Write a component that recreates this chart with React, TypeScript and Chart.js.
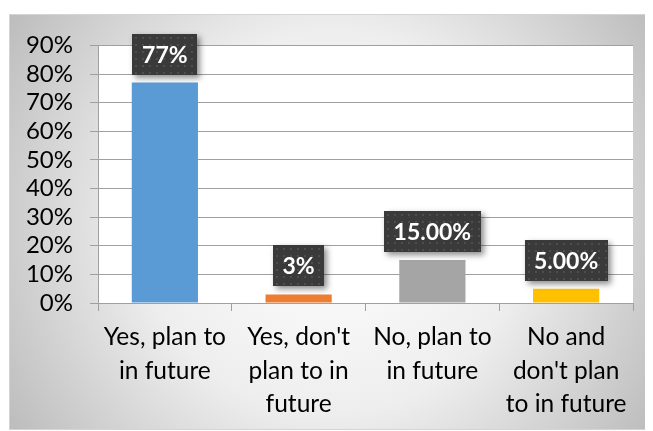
import React, { useEffect, useRef } from "react";
import { Chart, registerables } from "chart.js";

Chart.register(...registerables);

const categories: string[][] = [
  ["Yes, plan to", "in future"],
  ["Yes, don't", "plan to in", "future"],
  ["No, plan to", "in future"],
  ["No and", "don't plan", "to in future"],
];
const values = [77, 3, 15, 5];
const valueLabels = ["77%", "3%", "15.00%", "5.00%"];
const barColors = ["#5B9BD5", "#ED7D31", "#A5A5A5", "#FFC000"];
const yMin = 0;
const yMax = 90;
const yStep = 10;

const FONT = "Lato, 'Liberation Sans', sans-serif";

const backgroundPlugin = {
  id: "bgPlugin",
  beforeDraw(chart: any) {
    const { ctx, width, height, chartArea } = chart;
    ctx.save();
    const r = Math.hypot(width / 2, height / 2);
    const g = ctx.createRadialGradient(width / 2, height / 2, 0, width / 2, height / 2, r);
    g.addColorStop(0, "#ffffff");
    g.addColorStop(0.5, "#eeeeee");
    g.addColorStop(1, "#bcbcbc");
    ctx.fillStyle = g;
    ctx.fillRect(0, 0, width, height);
    ctx.fillStyle = "#ffffff";
    ctx.fillRect(chartArea.left, chartArea.top, chartArea.right - chartArea.left, chartArea.bottom - chartArea.top);
    ctx.strokeStyle = "#d4d4d4";
    ctx.lineWidth = 1;
    ctx.strokeRect(0.5, 0.5, width - 1, height - 1);
    ctx.restore();
  },
};

const labelPlugin = {
  id: "boxLabels",
  afterDatasetsDraw(chart: any) {
    const { ctx } = chart;
    const meta = chart.getDatasetMeta(0);
    meta.data.forEach((bar: any, i: number) => {
      const text = valueLabels[i];
      ctx.save();
      ctx.font = `bold 23px ${FONT}`;
      const tw = ctx.measureText(text).width;
      const w = Math.round(tw + 19);
      const h = 41;
      const x = Math.round(bar.x - w / 2);
      const y = Math.round(bar.y - 8 - h);
      ctx.shadowColor = "rgba(0,0,0,0.45)";
      ctx.shadowBlur = 6;
      ctx.shadowOffsetX = 3;
      ctx.shadowOffsetY = 3;
      ctx.fillStyle = "#3a3a3a";
      ctx.fillRect(x, y, w, h);
      ctx.restore();
      ctx.save();
      ctx.beginPath();
      ctx.rect(x, y, w, h);
      ctx.clip();
      ctx.fillStyle = "#4e4e4e";
      for (let yy = y + 3; yy < y + h; yy += 7) {
        for (let xx = x + 3; xx < x + w; xx += 7) {
          ctx.fillRect(xx, yy, 2, 2);
        }
      }
      ctx.restore();
      ctx.save();
      ctx.font = `bold 23px ${FONT}`;
      ctx.fillStyle = "#ffffff";
      ctx.textAlign = "center";
      ctx.textBaseline = "middle";
      ctx.fillText(text, bar.x, y + h / 2 + 1);
      ctx.restore();
    });
  },
};

export default function App() {
  const ref = useRef<HTMLCanvasElement>(null);
  useEffect(() => {
    if (!ref.current) return;
    const chart = new Chart(ref.current, {
      type: "bar",
      data: {
        labels: categories as any,
        datasets: [
          {
            data: values,
            backgroundColor: barColors,
            borderWidth: 0,
            categoryPercentage: 1,
            barPercentage: 0.495,
          },
        ],
      },
      options: {
        animation: false,
        responsive: false,
        layout: { padding: { top: 30, right: 19, left: 0, bottom: 0 } },
        plugins: { legend: { display: false }, tooltip: { enabled: false } },
        scales: {
          x: {
            grid: {
              display: true,
              drawOnChartArea: false,
              drawTicks: true,
              tickLength: 8,
              color: "#a0a0a0",
              offset: true,
            },
            border: { display: true, color: "#a0a0a0" },
            ticks: {
              color: "#000000",
              font: { family: FONT, size: 24.5, lineHeight: 1.35 },
              padding: 10,
              maxRotation: 0,
              minRotation: 0,
              autoSkip: false,
            },
            afterFit: (s: any) => {
              s.height = 127;
            },
          },
          y: {
            min: yMin,
            max: yMax,
            ticks: {
              stepSize: yStep,
              autoSkip: false,
              callback: (v: any) => v + "%",
              color: "#000000",
              font: { family: FONT, size: 24 },
              padding: 17,
            },
            grid: { color: "#a0a0a0", tickLength: 8 },
            border: { display: true, color: "#a0a0a0" },
            afterFit: (s: any) => {
              s.width = 89;
            },
          },
        },
      },
      plugins: [backgroundPlugin, labelPlugin],
    });
    return () => chart.destroy();
  }, []);
  return (
    <div style={{ paddingTop: 6, paddingLeft: 1 }}>
      <canvas ref={ref} width={643} height={416} style={{ display: "block" }} />
    </div>
  );
}
